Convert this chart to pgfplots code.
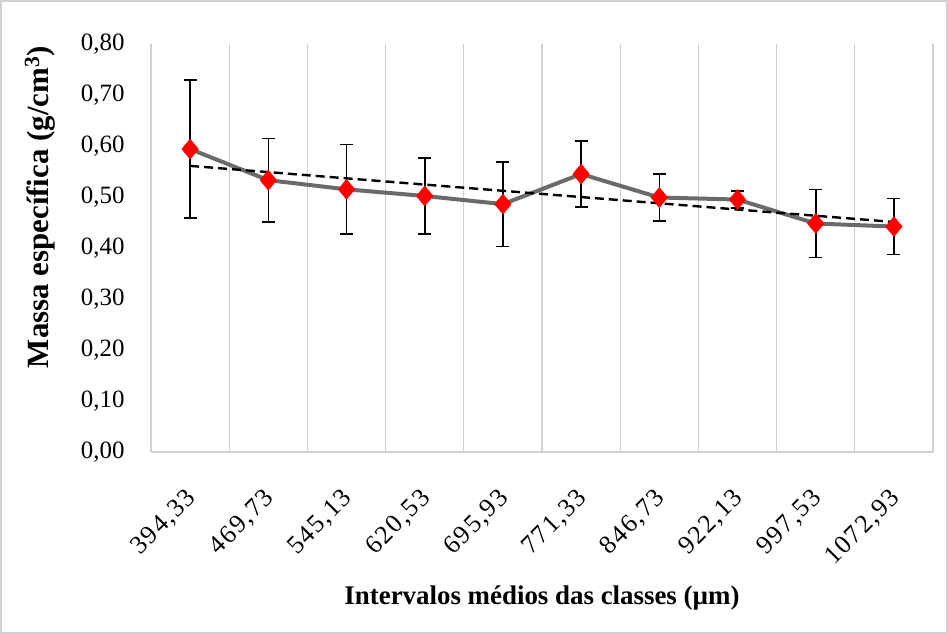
\documentclass[border=0pt]{standalone}
\usepackage{pgfplots}
\pgfplotsset{compat=1.18}
\usepackage{fontspec}
\setmainfont{Liberation Serif}
\newfontfamily\xtickfont[LetterSpace=6]{Liberation Serif}
\definecolor{linegray}{HTML}{6A6A6A}
\definecolor{gridgray}{HTML}{D0D0D0}
\begin{document}
\begin{tikzpicture}[x=1bp,y=1bp]
\useasboundingbox (0,0) rectangle (948,634);
\draw[gridgray, line width=1.2bp] (1,1) rectangle (947,633);
\begin{axis}[
  at={(151bp,182bp)}, anchor=south west,
  width=782bp, height=408bp, scale only axis,
  xmin=0.5, xmax=10.5, ymin=0, ymax=0.8,
  axis x line*=bottom, axis y line*=left,
  separate axis lines,
  axis line style={draw=gridgray, line width=1.2bp, -},
  major tick length=0pt,
  minor tick length=0pt,
  xtick={1,2,3,4,5,6,7,8,9,10},
  xticklabels={{394,33},{469,73},{545,13},{620,53},{695,93},{771,33},{846,73},{922,13},{997,53},{1072,93}},
  minor xtick={1.5,2.5,3.5,4.5,5.5,6.5,7.5,8.5,9.5,10.5},
  xminorgrids=true,
  minor x grid style={draw=gridgray, line width=1.2bp},
  ytick={0,0.1,0.2,0.3,0.4,0.5,0.6,0.7,0.8},
  /pgf/number format/fixed,
  /pgf/number format/fixed zerofill,
  /pgf/number format/precision=2,
  /pgf/number format/use comma,
  /pgf/number format/assume math mode=true,
  yticklabel style={font=\fontsize{25}{29}\selectfont, xshift=-23bp},
  xticklabel style={font=\xtickfont\fontsize{26}{30}\selectfont, rotate=45, anchor=north east, xshift=-25.5bp, yshift=-17.5bp},
  xlabel={\textbf{Intervalos médios das classes (µm)}},
  xlabel style={font=\fontsize{27}{31}\selectfont, at={(axis description cs:0.5,-0.358)}, anchor=center},
  ylabel={\textbf{Massa específica (g/cm\textsuperscript{3})}},
  ylabel style={font=\fontsize{31}{35}\selectfont, at={(axis description cs:-0.142,0.60)}, anchor=center},
  clip=false,
]
\addplot[color=linegray, line width=4bp,
  mark=diamond*, mark size=10bp, mark options={fill=red, draw=red, line width=0.5bp, xscale=1.1},
  error bars/.cd, y dir=both, y explicit,
  error bar style={black, line width=1.6bp},
  error mark options={rotate=90, black, line width=1.6bp, mark size=6.5bp}]
coordinates {
(1,0.594) +- (0,0.135)
(2,0.533) +- (0,0.082)
(3,0.515) +- (0,0.088)
(4,0.502) +- (0,0.075)
(5,0.486) +- (0,0.083)
(6,0.545) +- (0,0.065)
(7,0.499) +- (0,0.046)
(8,0.495) +- (0,0.017)
(9,0.448) +- (0,0.067)
(10,0.442) +- (0,0.055)
};
\addplot[black, line width=2.4bp, dash pattern=on 9bp off 5bp] coordinates {(1,0.561) (10,0.451)};
\end{axis}
\end{tikzpicture}
\end{document}
